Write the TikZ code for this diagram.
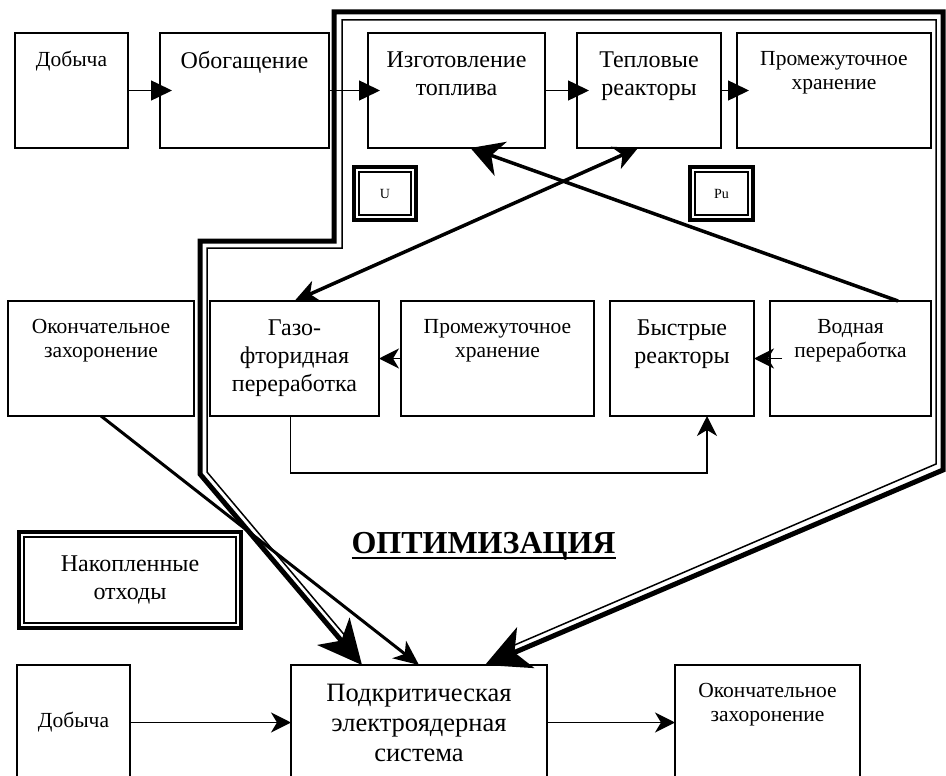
\documentclass[tikz,border=0pt]{standalone}
\usepackage{fontspec}
\setmainfont{Liberation Serif}
\usetikzlibrary{arrows.meta,positioning}

\newcommand\bigtxt{\fontsize{24}{28}\selectfont}
\newcommand\smalltxt{\fontsize{21.5}{24}\selectfont}
\newcommand\tinytxt{\fontsize{14}{16}\selectfont}
\newcommand\ulbar[1]{\setbox0\hbox{#1}\rlap{\rule[-6pt]{\wd0}{2pt}}\box0}

\tikzset{
  box/.style={draw, line width=1.5pt, inner sep=0pt, outer sep=0pt, minimum height=115pt, anchor=north west},
  dbox/.style={box, line width=4pt, path picture={
      \draw[line width=2pt] ([shift={(5pt,-5pt)}]path picture bounding box.north west)
        rectangle ([shift={(-5pt,5pt)}]path picture bounding box.south east);}},
  head/.style={label={[font=\bigtxt, align=center, anchor=north, yshift=-15pt]north:#1}},
  note/.style={label={[font=\smalltxt, align=center, anchor=north, yshift=-15pt]north:#1}},
  flow/.style={line width=1.5pt, -{Triangle[length=21pt,width=20pt]}, shorten >=-12pt},
  link/.style={line width=1.5pt, -{Stealth[length=20pt,width=20pt,inset=6pt]}},
  cross/.style={line width=3.5pt},
}

\begin{document}
\begin{tikzpicture}[x=1pt, y=-1pt]
\useasboundingbox (0,0) rectangle (946,776);
\clip (0,0) rectangle (946,776);

% closed fuel cycle
\node[box, minimum width=113pt, note=Добыча] (mineA) at (15,33) {};
\node[box, minimum width=169pt, head=Обогащение, right=32pt of mineA] (enrich) {};
\node[box, minimum width=177pt, head={Изготовление\\топлива}, right=39pt of enrich] (fab) {};
\node[box, minimum width=144pt, head={Тепловые\\реакторы}, right=32pt of fab] (thermal) {};
\node[box, minimum width=194pt, note={Промежуточное\\хранение}, right=16pt of thermal] (storeA) {};

\node[dbox, minimum width=62pt, minimum height=53pt, font=\tinytxt] (U) at (354,167) {U};
\node[dbox, minimum width=63pt, minimum height=53pt, font=\tinytxt] (Pu) at (690,167) {Pu};

\node[box, minimum width=186pt, note={Окончательное\\захоронение}] (finalA) at (8,301) {};
\node[box, minimum width=169pt, head={Газо-\\фторидная\\переработка}, right=16pt of finalA] (gasfl) {};
\node[box, minimum width=193pt, note={Промежуточное\\хранение}, right=22pt of gasfl] (storeB) {};
\node[box, minimum width=144pt, head={Быстрые\\реакторы}, right=16pt of storeB] (fast) {};
\node[box, minimum width=161pt, note={Водная\\переработка}, right=16pt of fast] (water) {};

% electronuclear system
\node[dbox, minimum width=222pt, minimum height=96pt, font=\bigtxt, align=center] (waste) at (19,532) {Накопленные\\отходы};
\node[font=\fontsize{32}{34}\selectfont\bfseries, anchor=base, inner sep=0pt] (optim) at (483.5,553) {\ulbar{ОПТИМИЗАЦИЯ}};

\node[box, minimum width=113pt, font=\smalltxt] (mineB) at (17,665) {Добыча};
\node[box, minimum width=256pt, font=\fontsize{26.5}{30}\selectfont, align=center, right=161pt of mineB] (adsys) {Подкритическая\\электроядерная\\система};
\node[box, minimum width=185pt, note={Окончательное\\захоронение}, right=128pt of adsys] (finalB) {};

\draw[flow] (mineA) -- (enrich);
\draw[flow] (enrich) -- (fab);
\draw[flow] (fab) -- (thermal);
\draw[flow] (thermal) -- (storeA);

\draw[cross, -{Stealth[length=32pt,width=36pt,inset=10pt]}] ([xshift=-33pt]water.north east) -- ([xshift=14pt]fab.south);
\draw[cross, {Stealth[length=24pt,width=22pt,inset=7pt]}-{Stealth[length=24pt,width=24pt,inset=7pt]}] (gasfl.north) -- ([xshift=-11pt]thermal.south);

\draw[link] (storeB) -- (gasfl);
\draw[link] ([xshift=12pt]water.west) -- (fast.east);
\draw[link] ([xshift=-4pt]gasfl.south) -- ++(0,57) -| ([xshift=25pt]fast.south);

\draw[link] (mineB) -- (adsys);
\draw[link] (adsys) -- (finalB);
\draw[line width=3pt, -{Stealth[length=25pt,width=22pt,inset=7pt]}] (finalA.south) -- (adsys.north);

% envelope of the cycle
\coordinate (e1) at (200,474);
\coordinate (e2) at (200,241);
\coordinate (e3) at (334,241);
\coordinate (e4) at (334,12);
\coordinate (e5) at (943,12);
\coordinate (e6) at (943,470);
\draw[line width=5pt, line join=miter,
  {Stealth[length=44pt,width=42pt,inset=12pt]}-{Stealth[length=44pt,width=44pt,inset=12pt]}]
  ([xshift=-57pt]adsys.north) -- (e1) -- (e2) -- (e3) -- (e4) -- (e5) -- (e6) -- ([xshift=66pt]adsys.north);
\draw[line width=1.5pt, line join=miter]
  (347,638) -- (207,472) -- (207,248) -- (342,248) -- (342,20) -- (936,20) -- (936,464) -- (510,647);
\end{tikzpicture}
\end{document}
